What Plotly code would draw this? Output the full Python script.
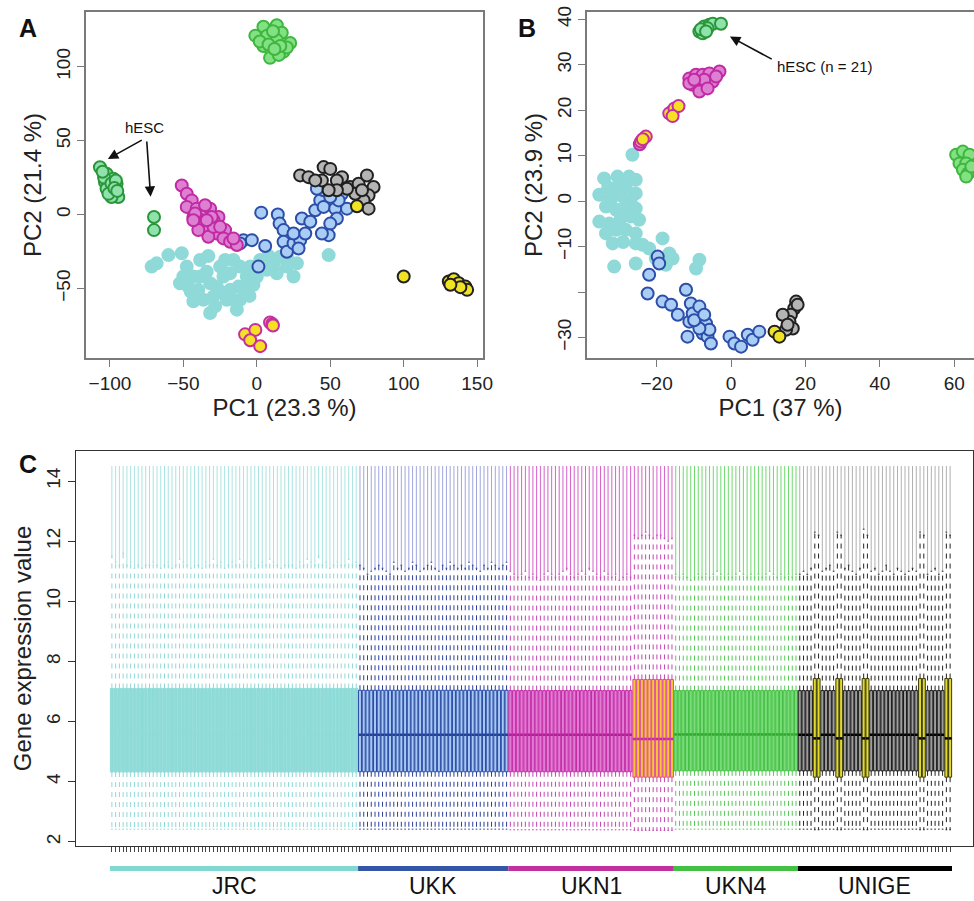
import plotly.graph_objects as go

W, H = 974, 901
FONT = "Liberation Sans, Arial, sans-serif"

# ---------------- Panel A : PCA (PC1 23.3 %, PC2 21.4 %) ----------------
a_jrc = [(-71.6,-35.2),(-68.2,-33),(-60.2,-27.4),(-51.1,-26.2),(-47.7,-35.2),(-50,-41.9),(-43.2,-41.9),
         (-38.6,-30.7),(-39.8,-50.9),(-43.2,-58.7),(-34.1,-38.6),(-31.8,-46.4),(-29.5,-55.4),(-28.4,-62.1),
         (-31.8,-66.6),(-25,-35.2),(-22.7,-41.9),(-18.2,-50.9),(-15.9,-57.6),(-13.6,-64.3),(-11.4,-35.2),
         (-18.2,-39.7),(-6.8,-41.9),(-8,-50.9),(-2.3,-47.5),(-4.5,-35.2),(2.3,-30.7),(6.8,-37.4),(11.4,-33),
         (15.9,-28.5),(20.5,-35.2),(25,-41.9),(27.3,-33),(20.5,-28.5),(13.6,-39.7),(-38.6,-41.9),(-27.3,-48.7),
         (-20.5,-57.6),(-12.5,-48.7),(48.9,-27.4),(-52.3,-46.4),(-46.6,-48.7),(-36.4,-57.6),(-15.9,-30.7),
         (-11.4,-57.6),(-21.6,-30.7),(-45,-52),(-25,-52),(-5,-55),(8,-28),(0,-42),(-33,-28)]
a_ukk = [(3,1.3),(14.3,0),(15.5,-6.1),(18.2,-10.5),(18.2,-18.4),(20.5,-25.1),(25,-19.5),(29.5,-17.3),
         (28.4,-22.9),(30.7,-2.7),(36.4,-4.9),(39.8,2.9),(43.2,9.6),(45.5,5.2),(53.4,4),(54.5,-2.7),(50,-6.1),
         (48.9,-13.9),(44.3,-12.8),(61.4,4),(58,14.1),(52.3,15.2),(45.5,16.4),(40.9,17.5),(-9.1,-17.3),
         (-3.4,-17.3),(5.7,-21.3),(1.1,-35.2),(-11.4,-19.5),(25,-12.8),(33,-12.8),(55.7,9.6),(50,11.9)]
a_ukn1 = [(-51.1,19.7),(-47.7,14.1),(-44.3,9.6),(-47.7,5.2),(-40.9,4),(-36.4,0.7),(-31.8,4),(-26.1,-1.6),
          (-29.5,-3.8),(-37.5,-3.8),(-43.2,-1.6),(-38.6,-8.3),(-33,-10.5),(-27.3,-12.8),(-21.6,-10.5),
          (-22.7,-16.1),(-18.2,-18.4),(-13.6,-20.6),(-33,-15),(-39.8,-10.5),(-29.5,-8.3),(-25,-8.3),
          (-42,0.7),(-35.2,6.3),(-30.7,-1.6),(-15.9,-16.1),(-34.1,-3.8),(-43.2,-3.8)]
a_ukn1_y = [(-8,-81),(-1,-78),(-4.5,-85),(2.3,-89),(9,-73),(10.5,-74),(11,-75)]
a_ukn4 = [(4.5,127),(13.6,128),(17,123),(-1,121),(7,121),(13.6,118),(22.7,116),(4.5,114),(10,110),
          (18,110),(9,106),(15,108),(2,117),(20.5,113),(11,124),(8,115),(16,114),(12,112)]
a_hesc = [(-106.8,32),(-102.3,27.6),(-97.7,24.2),(-103.4,22),(-95.5,20.9),(-100,18.6),(-96.6,15.2),
          (-102.3,17.5),(-94.3,11.9),(-98.9,11.9),(-104,25),(-99,21),(-96,23),(-101,14),(-97,18),
          (-105,29),(-95,16),(-70,-1.6),(-70,-10.5)]
a_unige = [(29.5,26.5),(35.2,25.3),(45.5,32.1),(50,30.9),(58,25.3),(44.3,23.1),(54.5,23.1),(63.6,18.6),
           (69.3,20.9),(75,26.5),(79.5,18.6),(76.1,13),(72.7,9.6),(76.1,4),(67,14.1),(61.4,17.5),
           (54.5,16.4),(48.9,16.4),(39.8,23.1),(71.6,16.4)]
a_unige_y = [(68.2,5.6),(100,-41.9),(130.7,-45.3),(134.1,-43.7),(137.5,-46.4),(142,-48.7),(143.2,-50.9),
             (138.6,-49.1),(131.8,-47.5)]

# ---------------- Panel B : PCA (PC1 37 %, PC2 23.9 %) ----------------
b_jrc = [(-26.5,10.2),(-34.1,5),(-30.5,5.4),(-27.4,5.4),(-25.6,4.7),(-30.9,2.8),(-28.3,3.2),(-35.4,1.4),
         (-32.3,0.3),(-29.1,1),(-25.6,1.7),(-33.6,-1.2),(-30.9,-1.9),(-28.3,-1.2),(-25.6,-1.6),(-35.4,-4.5),
         (-32.7,-4.9),(-29.6,-3.8),(-26.9,-3.4),(-24.7,-4.1),(-33.6,-7.1),(-30.9,-6.3),(-28.3,-6.3),
         (-25.6,-7.1),(-31.8,-9.3),(-25.6,-9.3),(-23.8,-9.6),(-22,-10.4),(-18.4,-8.2),(-16.6,-11.5),
         (-15.7,-12.6),(-25.6,-13.7),(-31.4,-14.4),(-8.5,-12.9),(-9.4,-14.8),(-17.5,-14),(-20.2,-12.6),
         (-12.1,-19.5),(-30,-2),(-33,3),(-27,0),(-29,-9)]
b_ukk = [(-19.7,-12.2),(-19.3,-13.7),(-22,-16.2),(-22.4,-20.3),(-18.4,-22.1),(-16.1,-22.8),(-14.3,-25),
         (-12.1,-19.5),(-10.8,-22.5),(-11.2,-26.5),(-11.7,-29.8),(-10.3,-24.7),(-8.5,-23.2),(-6.7,-26.9),
         (-7.6,-29.1),(-6.3,-29.8),(-5.4,-31.3),(-5.8,-28.3),(-8.5,-28),(-0.4,-29.8),(0.9,-31.3),(2.7,-32),
         (4.5,-29.4),(5.8,-30.5),(7.6,-28.7),(-9.9,-26.2),(-7.2,-25)]
b_ukn1 = [(-11.2,27),(-9.4,27.8),(-7.6,27.8),(-5.8,28.1),(-3.1,28.5),(-10.3,25.6),(-8.5,25.2),(-6.7,25.9),
          (-4.9,26.3),(-8.5,24.1),(-7.2,26.7),(-11.2,25.9),(-9.9,26.7),(-4,27.4),(-6.3,24.8),(-24.5,12.5),
          (-16,19.6)]
b_ukn1_y = [(-16.6,19.3),(-15.2,20.4),(-14.1,20.9),(-15.7,18.7),(-24.2,13.1),(-22.9,14.2),(-23.7,13.6)]
b_hesc = [(-8.5,37.3),(-7.2,38.4),(-5.8,38.8),(-4.9,39),(-2.7,39),(-7.6,36.9),(-6.3,38),(-8.1,37.8),(-6.7,37.3)]
b_ukn4 = [(60.5,10.2),(62.3,10.9),(64.1,10.2),(61.4,8.3),(63.2,8.3),(62.3,6.9),(63.7,6.1),(63.2,5.4),(64.6,7.6)]
b_unige = [(17.5,-22.1),(17,-23.6),(16.1,-25),(15.7,-26.5),(16.6,-28),(14.8,-28.3),(17.9,-22.8),(13.9,-25),(15.2,-27.2)]
b_unige_y = [(11.7,-28.7),(13,-29.8)]

# ---------------- Panel C : per-array box plots ----------------
jrc_whisk_hi = [11.5,11.3,11.2,11.6,11.2,11.3,11.1,11.2,11.1,11.2,11.2,11.3,11.2,11.1,11.2,11.3,11.1,11.2,
                11.4,11.3,11.2,11.1,11.3,11.2,11.1,11.3,11.2,11.4,11.2,11.3,11.1,11.2,11.3,11.2,11.4,11.3,
                11.2,11.3,11.1,11.2,11.3,11.2,11.4,11.3,11.2,11.1,11.2,11.3,11.2,11.1,11.3,11.2,11.4,11.3,
                11.2,11.5,11.2,11.3,11.1,11.2,11.3,11.2,11.2,11.4,11.2,11.3]
ukk_whisk_hi = [11.2,11.1,10.9,11.0,11.1,11.2,11.1,11.0,10.9,11.3,11.1,11.2,11.0,11.1,11.3,11.2,11.0,11.1,
                11.2,11.3,11.1,11.0,11.2,11.1,11.3,11.2,11.1,11.2,11.1,11.3,11.2,11.1,11.0,11.2,11.1,11.3,
                11.2,11.1,11.2,11.3]
ukn1_whisk_hi = [11.0,10.9,10.8,10.9,11.0,10.8,10.9,10.8,10.7,10.9,11.0,10.9,10.8,10.9,11.0,11.1,10.9,10.8,
                 10.9,11.0,10.9,11.1,11.0,10.9,10.8,11.0,10.9,10.8,10.9,10.7,10.8,10.9,10.8]
ukn1y_whisk_hi = [12.2,12.1,12.2,12.3,12.2,12.1,12.2,12.2,12.1,12.0,12.1]
ukn4_whisk_hi = [10.9,10.8,10.9,10.8,10.7,10.8,10.9,10.8,10.9,10.8,10.9,11.0,10.9,10.8,10.9,10.8,10.9,11.0,
                 10.9,10.8,10.9,10.8,10.9,10.8,10.9,11.0,10.9,10.8,10.9,10.8,10.9,10.8,10.9]
unige_whisk_hi = [10.9,11.0,10.9,11.1,12.3,12.2,11.0,11.1,11.2,11.0,12.3,12.2,11.1,11.2,11.0,10.9,11.1,12.4,
                  12.2,11.0,11.1,10.9,11.0,11.2,11.0,10.9,11.1,11.0,10.9,11.0,11.1,11.0,12.3,12.2,10.9,11.0,
                  11.1,10.9,11.0,12.3,12.2]
unige_yellow = [0,0,0,0,1,1,0,0,0,0,1,1,0,0,0,0,0,1,1,0,0,0,0,0,0,0,0,0,0,0,0,0,1,1,0,0,0,0,0,1,1]

# summary statistics per series
series_key    = ["JRC", "UKK", "UKN1", "UKN1y", "UKN4", "UNIGE", "UNIGEy"]
series_q1     = [4.32, 4.33, 4.33, 4.15, 4.36, 4.36, 4.15]
series_median = [5.55, 5.56, 5.56, 5.42, 5.57, 5.56, 5.44]
series_q3     = [7.10, 7.04, 7.03, 7.40, 7.03, 7.03, 7.43]
series_lo     = [2.42, 2.42, 2.40, 2.38, 2.42, 2.42, 2.40]
series_max    = [14.5, 14.5, 14.5, 14.5, 14.5, 14.5, 14.5]

group_labels = ["JRC", "UKK", "UKN1", "UKN4", "UNIGE"]

# ---------------- styles ----------------
pca_style = {
    "JRC":    dict(fill="#8fdad8", edge="#8fdad8"),
    "UKK":    dict(fill="#a9cdf4", edge="#2d4ea8"),
    "UKN1":   dict(fill="#de80d2", edge="#c02aa4"),
    "UKN1y":  dict(fill="#f6df24", edge="#c42fa4"),
    "UKN4":   dict(fill="#82e182", edge="#3fb63f"),
    "hESC":   dict(fill="#90e2ad", edge="#2a963a"),
    "UNIGE":  dict(fill="#b4b4b4", edge="#202020"),
    "UNIGEy": dict(fill="#f0e324", edge="#202020"),
}
box_style = {
    "JRC":    dict(fill="#8edbd8", edge="#8edbd8", med="#8edbd8", wh="#8fd8d6", out="#a9e3e1"),
    "UKK":    dict(fill="#a6c8f2", edge="#2b4ca6", med="#22409a", wh="#2b3f9a", out="#a0a6dd"),
    "UKN1":   dict(fill="#e07cd4", edge="#c42ba6", med="#b02094", wh="#c444b2", out="#d661cb"),
    "UKN1y":  dict(fill="#f8c634", edge="#de4c9c", med="#c42ba6", wh="#c444b2", out="#d661cb"),
    "UKN4":   dict(fill="#78dc78", edge="#44bf44", med="#30a830", wh="#55c855", out="#6fd96f"),
    "UNIGE":  dict(fill="#9c9c9c", edge="#1c1c1c", med="#000000", wh="#222222", out="#b0b0b0"),
    "UNIGEy": dict(fill="#e3da2e", edge="#3a3a10", med="#000000", wh="#222222", out="#b0b0b0"),
}
bar_color = {"JRC": "#80d8d0", "UKK": "#3556a6", "UKN1": "#c2309f", "UKN4": "#44c044", "UNIGE": "#000000"}

fig = go.Figure()


def add_pca(pts, key, xa, ya):
    st = pca_style[key]
    fig.add_trace(go.Scatter(
        x=[p[0] for p in pts], y=[p[1] for p in pts], mode="markers", xaxis=xa, yaxis=ya,
        showlegend=False, hoverinfo="skip",
        marker=dict(size=12, color=st["fill"], line=dict(color=st["edge"], width=2))))


for pts, key in [(a_jrc, "JRC"), (a_ukk, "UKK"), (a_ukn1, "UKN1"), (a_ukn1_y, "UKN1y"), (a_ukn4, "UKN4"),
                 (a_hesc, "hESC"), (a_unige, "UNIGE"), (a_unige_y, "UNIGEy")]:
    add_pca(pts, key, "x", "y")
for pts, key in [(b_jrc, "JRC"), (b_ukk, "UKK"), (b_ukn1, "UKN1"), (b_ukn1_y, "UKN1y"), (b_ukn4, "UKN4"),
                 (b_hesc, "hESC"), (b_unige, "UNIGE"), (b_unige_y, "UNIGEy")]:
    add_pca(pts, key, "x2", "y2")

# ---- build sample list for panel C ----
samples = []   # (series key, group label, whisker hi)
for v in jrc_whisk_hi:
    samples.append(("JRC", "JRC", v))
for v in ukk_whisk_hi:
    samples.append(("UKK", "UKK", v))
for v in ukn1_whisk_hi:
    samples.append(("UKN1", "UKN1", v))
for v in ukn1y_whisk_hi:
    samples.append(("UKN1y", "UKN1", v))
for v in ukn4_whisk_hi:
    samples.append(("UKN4", "UKN4", v))
for v, yl in zip(unige_whisk_hi, unige_yellow):
    samples.append(("UNIGEy" if yl else "UNIGE", "UNIGE", v))

N = len(samples)
hw = 0.40   # half box width (in sample units)
sw = 0.22   # half staple width

for key in series_key:
    k = series_key.index(key)
    q1, md, q3, lo, mx = series_q1[k], series_median[k], series_q3[k], series_lo[k], series_max[k]
    idx = [i for i, s in enumerate(samples) if s[0] == key]
    st = box_style[key]
    bx, by, mxs, mys, wx, wy, sx, sy, ox, oy = [], [], [], [], [], [], [], [], [], []
    for i in idx:
        hi = samples[i][2]
        bx += [i - hw, i + hw, i + hw, i - hw, i - hw, None]
        by += [q1, q1, q3, q3, q1, None]
        mxs += [i - hw, i + hw, None]
        mys += [md, md, None]
        wx += [i, i, None, i, i, None]
        wy += [q3, hi, None, q1, lo, None]
        sx += [i - sw, i + sw, None, i - sw, i + sw, None]
        sy += [hi, hi, None, lo, lo, None]
        ox += [i, i, None]
        oy += [hi, mx, None]
    common = dict(xaxis="x3", yaxis="y3", showlegend=False, hoverinfo="skip", mode="lines")
    fig.add_trace(go.Scatter(x=ox, y=oy, line=dict(color=st["out"], width=1), **common))
    fig.add_trace(go.Scatter(x=wx, y=wy, line=dict(color=st["wh"], width=1, dash="5px,5px"), **common))
    fig.add_trace(go.Scatter(x=sx, y=sy, line=dict(color=st["wh"], width=1), **common))
    fig.add_trace(go.Scatter(x=bx, y=by, fill="toself", fillcolor=st["fill"],
                             line=dict(color=st["edge"], width=1), **common))
    fig.add_trace(go.Scatter(x=mxs, y=mys, line=dict(color=st["med"], width=2.5), **common))

# ---------------- layout ----------------
def px_x(p):
    return p / W


def px_y(p):
    return 1 - p / H


axis_ab = dict(showline=True, mirror=True, linecolor="#7a7a7a", linewidth=1.5, ticks="outside",
               ticklen=7, tickcolor="#7a7a7a", tickwidth=1.2, showgrid=False, zeroline=False,
               tickfont=dict(size=19, color="#222", family=FONT), automargin=False)

# panel C sample pitch in pixels (boxes span 110..952 px)
pitch = (952 - 110) / N
c_left = (76 - 110) / pitch - 0.5
c_right = (973 - 110) / pitch - 0.5

fig.update_layout(
    width=W, height=H, margin=dict(l=0, r=0, t=0, b=0),
    paper_bgcolor="white", plot_bgcolor="white", showlegend=False,
    font=dict(family=FONT, color="#222"),
    xaxis=dict(domain=[px_x(86), px_x(483)], anchor="y", range=[-116.3, 154],
               tickvals=[-100, -50, 0, 50, 100, 150],
               title=dict(text="PC1 (23.3 %)", font=dict(size=24, family=FONT), standoff=6), **axis_ab),
    yaxis=dict(domain=[px_y(358), px_y(12)], anchor="x", range=[-97, 137], tickvals=[-50, 0, 50, 100],
               tickangle=-90,
               title=dict(text="PC2 (21.4 %)", font=dict(size=24, family=FONT), standoff=4), **axis_ab),
    xaxis2=dict(domain=[px_x(587), 1.0], anchor="y2", range=[-38.7, 65.3], tickvals=[-20, 0, 20, 40, 60],
                title=dict(text="PC1 (37 %)", font=dict(size=24, family=FONT), standoff=6), **axis_ab),
    yaxis2=dict(domain=[px_y(358), px_y(12)], anchor="x2", range=[-34.5, 41.6],
                tickvals=[-30, -20, -10, 0, 10, 20, 30, 40],
                ticktext=["\u221230", "", "\u221210", "0", "10", "20", "30", "40"], tickangle=-90,
                title=dict(text="PC2 (23.9 %)", font=dict(size=24, family=FONT), standoff=4), **axis_ab),
    xaxis3=dict(domain=[px_x(76), px_x(973)], anchor="y3", range=[c_left, c_right], tickvals=list(range(N)),
                showticklabels=False, ticks="outside", ticklen=5, tickcolor="#444", tickwidth=1,
                showline=True, mirror=True, linecolor="#333", linewidth=1.2, showgrid=False,
                zeroline=False, automargin=False),
    yaxis3=dict(domain=[px_y(846), px_y(451)], anchor="x3", range=[1.86, 15.0],
                tickvals=[2, 4, 6, 8, 10, 12, 14],
                tickangle=-90, ticks="outside", ticklen=7, tickcolor="#333", showline=True, mirror=True,
                linecolor="#333", linewidth=1.2, showgrid=False, zeroline=False,
                tickfont=dict(size=19, color="#222", family=FONT), automargin=False,
                title=dict(text="Gene expression value", font=dict(size=24, family=FONT), standoff=4)),
)

# group colour bar + labels under panel C
shapes = []
annotations = []
for g in group_labels:
    idx = [i for i, s in enumerate(samples) if s[1] == g]
    x0, x1 = min(idx) - 0.5, max(idx) + 0.5
    shapes.append(dict(type="rect", xref="x3", yref="paper", x0=x0, x1=x1, y0=px_y(871), y1=px_y(866),
                       fillcolor=bar_color[g], line=dict(width=0)))
    annotations.append(dict(xref="x3", yref="paper", x=(x0 + x1) / 2, y=px_y(886), text=g, showarrow=False,
                            font=dict(size=23, family=FONT, color="#111"), xanchor="center", yanchor="middle"))

# panel letters
for letter, xx, yy in [("A", 28, 28), ("B", 527, 28), ("C", 28, 464)]:
    annotations.append(dict(xref="paper", yref="paper", x=px_x(xx), y=px_y(yy), text="<b>%s</b>" % letter,
                            showarrow=False, font=dict(size=25, family=FONT, color="#111"),
                            xanchor="center", yanchor="middle"))

# hESC annotations
arrow = dict(showarrow=True, arrowhead=2, arrowsize=1.3, arrowwidth=1.6, arrowcolor="#111", text="")
annotations.append(dict(xref="x", yref="y", x=-76.2, y=58.7, text="hESC", showarrow=False,
                        font=dict(size=15, family=FONT, color="#111")))
annotations.append(dict(xref="x", yref="y", axref="x", ayref="y", x=-101.4, y=37.6, ax=-77.3, ay=50.9, **arrow))
annotations.append(dict(xref="x", yref="y", axref="x", ayref="y", x=-72.3, y=12, ax=-75, ay=50.4, **arrow))
annotations.append(dict(xref="x2", yref="y2", axref="x2", ayref="y2", x=-0.3, y=36.2, ax=11.35, ay=31.05, **arrow))
annotations.append(dict(xref="x2", yref="y2", x=11.8, y=29.6, text="hESC (n = 21)", showarrow=False,
                        xanchor="left", yanchor="middle", font=dict(size=15, family=FONT, color="#111")))

fig.update_layout(shapes=shapes, annotations=annotations)
fig.write_html("out.html")
